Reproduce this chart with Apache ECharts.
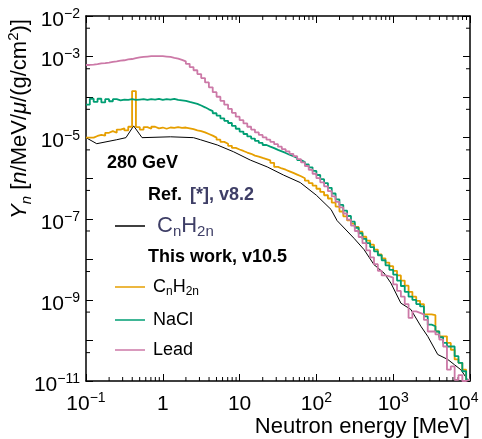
<!DOCTYPE html>
<html>
<head>
<meta charset="utf-8">
<script src="https://cdn.jsdelivr.net/npm/echarts@6/dist/echarts.min.js"></script>
<style>
  html, body { margin: 0; padding: 0; background: #fff; }
  #chart { width: 482px; height: 439px; }
</style>
</head>
<body>
<div id="chart"></div>
<script>
// neutron yield vs energy, 280 GeV muons
var FONT = '"Liberation Sans", Arial, Helvetica, sans-serif';
var X_MIN = 0.1, X_MAX = 1e4, Y_MIN = 1e-11, Y_MAX = 1e-2;

// bins: 20 per decade
var binMantissa = [1, 1.122, 1.259, 1.413, 1.585, 1.778, 1.995, 2.239, 2.512, 2.818,
  3.162, 3.548, 3.981, 4.467, 5.012, 5.623, 6.310, 7.079, 7.943, 8.913];
var binDecades = [0.1, 1, 10, 100, 1000];

// this work, v10.5
var cnh2n = [1.0e-5, 1.0e-5, 1.1e-5, 1.17e-5, 1.12e-5, 1.32e-5, 1.45e-5, 1.32e-5, 1.58e-5, 1.7e-5,
  1.51e-5, 1.86e-5, 1.41e-4, 1.82e-5, 1.58e-5, 1.82e-5, 1.66e-5, 1.86e-5, 1.7e-5, 1.78e-5,
  1.66e-5, 1.78e-5, 1.74e-5, 1.82e-5, 1.74e-5, 1.78e-5, 1.7e-5, 1.62e-5, 1.51e-5, 1.45e-5,
  1.35e-5, 1.23e-5, 1.12e-5, 1.0e-5, 8.9e-6, 7.9e-6, 7.1e-6, 6.3e-6, 5.6e-6, 5.1e-6,
  4.7e-6, 4.3e-6, 4.0e-6, 3.6e-6, 3.4e-6, 3.16e-6, 2.95e-6, 2.75e-6, 2.4e-6, 1.9e-6,
  1.74e-6, 1.62e-6, 1.48e-6, 1.35e-6, 1.23e-6, 1.12e-6, 1.0e-6, 8.7e-7, 7.6e-7, 6.6e-7,
  5.5e-7, 4.6e-7, 3.8e-7, 3.16e-7, 2.5e-7, 2.0e-7, 1.51e-7, 1.15e-7, 9.1e-8, 7.6e-8,
  6.3e-8, 4.8e-8, 3.6e-8, 2.9e-8, 2.3e-8, 1.74e-8, 1.32e-8, 1.05e-8, 8.3e-9, 6.8e-9,
  5.2e-9, 4.0e-9, 3.0e-9, 2.24e-9, 1.58e-9, 1.2e-9, 9.5e-10, 7.9e-10, 4.4e-10, 4.4e-10,
  4.2e-10, 1.66e-10, 1.26e-10, 1.26e-10, 8.7e-11, 5.9e-11, 3.4e-11, 2.8e-11, 1.9e-11, 1.07e-11];

var nacl = [6.5e-5, 9.1e-5, 7.6e-5, 9.1e-5, 7.4e-5, 8.9e-5, 7.9e-5, 8.9e-5, 8.3e-5, 8.7e-5,
  8.5e-5, 8.9e-5, 8.5e-5, 8.7e-5, 8.9e-5, 8.5e-5, 8.9e-5, 8.7e-5, 9.1e-5, 8.5e-5,
  8.9e-5, 8.7e-5, 9.1e-5, 8.5e-5, 8.3e-5, 8.1e-5, 7.6e-5, 7.2e-5, 6.8e-5, 6.2e-5,
  5.6e-5, 5.0e-5, 4.5e-5, 4.0e-5, 3.5e-5, 3.0e-5, 2.6e-5, 2.3e-5, 1.95e-5, 1.66e-5,
  1.41e-5, 1.23e-5, 1.07e-5, 9.5e-6, 8.3e-6, 7.4e-6, 6.6e-6, 6.0e-6, 5.5e-6, 5.0e-6,
  4.6e-6, 4.2e-6, 3.8e-6, 3.5e-6, 3.16e-6, 2.8e-6, 2.5e-6, 2.2e-6, 1.86e-6, 1.51e-6,
  1.2e-6, 9.5e-7, 7.6e-7, 5.8e-7, 4.2e-7, 3.0e-7, 2.2e-7, 1.58e-7, 1.17e-7, 8.5e-8,
  6.0e-8, 4.4e-8, 3.2e-8, 2.5e-8, 2.0e-8, 1.58e-8, 1.26e-8, 9.5e-9, 7.1e-9, 5.5e-9,
  4.2e-9, 3.0e-9, 2.2e-9, 1.58e-9, 1.2e-9, 1.0e-9, 7.9e-10, 6.9e-10, 3.9e-10, 2.45e-10,
  2.24e-10, 1.66e-10, 1.2e-10, 8.7e-11, 7.1e-11, 7.1e-11, 4.1e-11, 2.8e-11, 1.74e-11, 1.07e-11];

var lead = [6.2e-4, 6.3e-4, 6.5e-4, 6.8e-4, 6.9e-4, 7.1e-4, 7.4e-4, 7.6e-4, 7.9e-4, 8.1e-4,
  8.5e-4, 8.7e-4, 9.1e-4, 9.5e-4, 9.8e-4, 1.0e-3, 1.02e-3, 1.02e-3, 1.02e-3, 1.02e-3,
  1.0e-3, 9.8e-4, 9.3e-4, 8.9e-4, 8.3e-4, 7.6e-4, 6.6e-4, 5.5e-4, 4.6e-4, 3.7e-4,
  2.95e-4, 2.3e-4, 1.74e-4, 1.32e-4, 1.02e-4, 8.1e-5, 6.5e-5, 5.1e-5, 4.1e-5, 3.3e-5,
  2.7e-5, 2.24e-5, 1.86e-5, 1.58e-5, 1.35e-5, 1.17e-5, 1.02e-5, 8.9e-6, 7.9e-6, 6.9e-6,
  6.0e-6, 5.2e-6, 4.6e-6, 4.0e-6, 3.5e-6, 2.95e-6, 2.45e-6, 2.0e-6, 1.62e-6, 1.29e-6,
  1.0e-6, 7.9e-7, 6.3e-7, 4.8e-7, 3.55e-7, 2.6e-7, 1.9e-7, 1.35e-7, 9.5e-8, 6.8e-8,
  5.0e-8, 3.55e-8, 2.5e-8, 1.66e-8, 1.12e-8, 7.6e-9, 5.2e-9, 4.0e-9, 3.8e-9, 3.55e-9,
  2.4e-9, 1.66e-9, 1.2e-9, 7.9e-10, 3.6e-10, 5.2e-10, 4.8e-10, 4.4e-10, 3.2e-10, 1.66e-10,
  1.66e-10, 1.41e-10, 1.05e-10, 7.1e-11, 1.9e-11, 2.3e-11, 1.07e-11, 1.4e-11, 1.0e-11, 1.1e-11];

// Ref. [*], v8.2 (polyline)
var refEnergy = [0.1, 0.138, 0.251, 0.331, 0.417, 0.537, 1.26, 2.51, 3.09, 5.13,
  8.32, 13.8, 22.9, 37.2, 61.7, 100, 155, 186, 309, 417,
  562, 759, 933, 1259, 1698, 2291, 2818, 3802, 5128, 6310,
  7586, 9333, 10000];
var refYield = [1.0e-5, 7.1e-6, 8.9e-6, 1.0e-5, 1.95e-5, 1.0e-5, 1.05e-5, 1.0e-5, 8.9e-6, 6.6e-6,
  4.5e-6, 2.8e-6, 1.9e-6, 1.2e-6, 7.8e-7, 3.8e-7, 1.7e-7, 9.0e-8, 3.3e-8, 1.74e-8,
  7.4e-9, 4.6e-9, 2.6e-9, 8.3e-10, 5.8e-10, 2.24e-10, 1.26e-10, 4.5e-11, 3.4e-11, 2.5e-11,
  1.9e-11, 1.07e-11, 1.0e-11];

// axis labels / minor ticks
var yLabelExp = [-2, -3, -5, -7, -9, -11];
var xMinorMantissa = [2, 3, 4, 5, 6, 7, 8, 9];
var yMinorValues = [5e-3, 5e-4, 5e-5, 5e-6, 5e-7, 5e-8, 5e-9, 5e-10, 5e-11];

var colors = { cnh2n: '#E69F00', nacl: '#009E73', lead: '#CC79A7', ref: '#000000' };
var refTextColor = '#3e3e66';

var edges = [];
binDecades.forEach(function (d) {
  binMantissa.forEach(function (m) { edges.push(d * m); });
});
edges.push(X_MAX);

function histData(vals) {
  return edges.map(function (e, i) {
    return [e, vals[Math.min(i, vals.length - 1)]];
  });
}

var xMinorData = [];
binDecades.forEach(function (d) {
  xMinorMantissa.forEach(function (m) { xMinorData.push([d * m, Y_MIN]); });
});

function expOf(v) { return Math.round(Math.log(v) / Math.LN10); }

var labelRich = {
  b: { fontSize: 21, fontFamily: FONT, color: '#000', lineHeight: 26 },
  s: { fontSize: 14, fontFamily: FONT, color: '#000', lineHeight: 14, verticalAlign: 'top' },
  sl: { fontSize: 14, fontFamily: FONT, color: '#000', lineHeight: 14, verticalAlign: 'top', padding: [0, 14, 0, 0] }
};

function xLabel(v) {
  var e = expOf(v);
  if (e === 0) return '{b|1}';
  if (e === 1) return '{b|10}';
  if (e === 4) return '{b|10}{sl|4}';
  return '{b|10}{s|' + (e < 0 ? '\u2212' + (-e) : e) + '}';
}
function yLabel(v) {
  var e = expOf(v);
  if (yLabelExp.indexOf(e) < 0) return '';
  return '{b|10}{s|\u2212' + (-e) + '}';
}

var axisLine = { show: true, lineStyle: { color: '#000', width: 1.5 } };
var majorTick = { show: true, inside: true, length: 7, lineStyle: { color: '#000', width: 1 } };

function xAx(pos, showLabel) {
  return {
    type: 'log', logBase: 10, min: X_MIN, max: X_MAX, splitNumber: 5, position: pos,
    axisLine: axisLine, axisTick: majorTick, splitLine: { show: false }, minorTick: { show: false },
    axisLabel: { show: showLabel, margin: 10, formatter: xLabel, rich: labelRich, showMinLabel: true, showMaxLabel: true }
  };
}
function yAx(pos, showLabel) {
  return {
    type: 'log', logBase: 10, min: Y_MIN, max: Y_MAX, splitNumber: 9, position: pos,
    axisLine: axisLine, axisTick: majorTick, splitLine: { show: false }, minorTick: { show: false },
    axisLabel: {
      show: showLabel, margin: 6, formatter: yLabel, rich: labelRich, padding: [8, 0, 0, 0],
      showMinLabel: true, showMaxLabel: true
    }
  };
}

function tickLine(x1, y1, x2, y2) {
  return { type: 'line', shape: { x1: x1, y1: y1, x2: x2, y2: y2 }, style: { stroke: '#000', lineWidth: 1 } };
}

function stepSeries(name, vals, color) {
  return {
    name: name, type: 'line', step: 'end', data: histData(vals), showSymbol: false,
    lineStyle: { color: color, width: 1.8 }, itemStyle: { color: color }, silent: true
  };
}

var legendText = {
  'Ref CnH2n': '{rf|C}{rs|n}{rb|H}{rs|2n}',
  'CnH2n': '{bf|C}{s|n}{b|H}{s|2n}',
  'NaCl': '{bf|NaCl}',
  'Lead': '{bf|Lead}'
};
var legendRich = {
  bf: { fontSize: 18, fontFamily: FONT, color: '#000', lineHeight: 22, padding: [0, 0, 0, 3] },
  b: { fontSize: 18, fontFamily: FONT, color: '#000', lineHeight: 22 },
  s: { fontSize: 12, fontFamily: FONT, color: '#000', lineHeight: 12, verticalAlign: 'bottom' },
  rf: { fontSize: 22, fontFamily: FONT, color: refTextColor, lineHeight: 26, padding: [0, 0, 0, 7] },
  rb: { fontSize: 22, fontFamily: FONT, color: refTextColor, lineHeight: 26 },
  rs: { fontSize: 15, fontFamily: FONT, color: refTextColor, lineHeight: 14, verticalAlign: 'bottom' }
};
function legendAt(name, top) {
  return {
    data: [name], left: 110, top: top, orient: 'horizontal', selectedMode: false,
    icon: 'rect', itemWidth: 30, itemHeight: 1.5,
    formatter: function (n) { return legendText[n]; },
    textStyle: { rich: legendRich }
  };
}

var chart = echarts.init(document.getElementById('chart'));
chart.setOption({
  animation: false,
  backgroundColor: '#fff',
  grid: { left: 86, top: 16, right: 12, bottom: 58, containLabel: false, outerBoundsMode: 'none' },
  xAxis: [xAx('bottom', true), xAx('top', false)],
  yAxis: [yAx('left', true), yAx('right', false)],
  legend: [legendAt('Ref CnH2n', 210), legendAt('CnH2n', 273), legendAt('NaCl', 306), legendAt('Lead', 336)],
  series: [
    {
      type: 'custom', silent: true, data: xMinorData, clip: false,
      renderItem: function (params, api) {
        var v = api.value(0);
        var b = api.coord([v, Y_MIN]), t = api.coord([v, Y_MAX]);
        return { type: 'group', children: [tickLine(b[0], b[1], b[0], b[1] - 4), tickLine(t[0], t[1], t[0], t[1] + 4)] };
      }
    },
    {
      type: 'custom', silent: true, clip: false,
      data: yMinorValues.map(function (v) { return [X_MIN, v]; }),
      renderItem: function (params, api) {
        var v = api.value(1);
        var l = api.coord([X_MIN, v]), r = api.coord([X_MAX, v]);
        return { type: 'group', children: [tickLine(l[0], l[1], l[0] + 4, l[1]), tickLine(r[0], r[1], r[0] - 4, r[1])] };
      }
    },
    {
      name: 'Ref CnH2n', type: 'line', showSymbol: false, silent: true,
      data: refEnergy.map(function (e, i) { return [e, refYield[i]]; }),
      lineStyle: { color: colors.ref, width: 1 }, itemStyle: { color: colors.ref }
    },
    stepSeries('CnH2n', cnh2n, colors.cnh2n),
    stepSeries('NaCl', nacl, colors.nacl),
    stepSeries('Lead', lead, colors.lead)
  ],
  graphic: [
    {
      type: 'text', x: 20, y: 119, rotation: Math.PI / 2,
      style: {
        text: '{i|Y}{isub|n}{r| [}{i|n}{r|/MeV/}{i|\u03bc}{r|/(g/cm}{sup|2}{r|)]}',
        textAlign: 'center', textVerticalAlign: 'middle',
        rich: {
          r: { fontSize: 22, fontFamily: FONT, lineHeight: 28, fill: '#000' },
          i: { fontSize: 22, fontFamily: FONT, fontStyle: 'italic', lineHeight: 28, fill: '#000' },
          isub: { fontSize: 15, fontFamily: FONT, fontStyle: 'italic', lineHeight: 16, verticalAlign: 'bottom', fill: '#000' },
          sup: { fontSize: 15, fontFamily: FONT, lineHeight: 16, verticalAlign: 'top', fill: '#000' }
        }
      }
    },
    {
      type: 'text', x: 470, y: 427,
      style: { text: 'Neutron energy [MeV]', font: '22px ' + FONT, fill: '#000', textAlign: 'right', textVerticalAlign: 'middle' }
    },
    {
      type: 'text', x: 107, y: 163,
      style: { text: '280 GeV', font: 'bold 18px ' + FONT, fill: '#000', textAlign: 'left', textVerticalAlign: 'middle' }
    },
    {
      type: 'text', x: 148, y: 195,
      style: { text: 'Ref.', font: 'bold 18px ' + FONT, fill: '#000', textAlign: 'left', textVerticalAlign: 'middle' }
    },
    {
      type: 'text', x: 190, y: 195,
      style: { text: '[*], v8.2', font: 'bold 18px ' + FONT, fill: refTextColor, textAlign: 'left', textVerticalAlign: 'middle' }
    },
    {
      type: 'text', x: 148, y: 257,
      style: { text: 'This work, v10.5', font: 'bold 18px ' + FONT, fill: '#000', textAlign: 'left', textVerticalAlign: 'middle' }
    }
  ]
});
</script>
</body>
</html>
